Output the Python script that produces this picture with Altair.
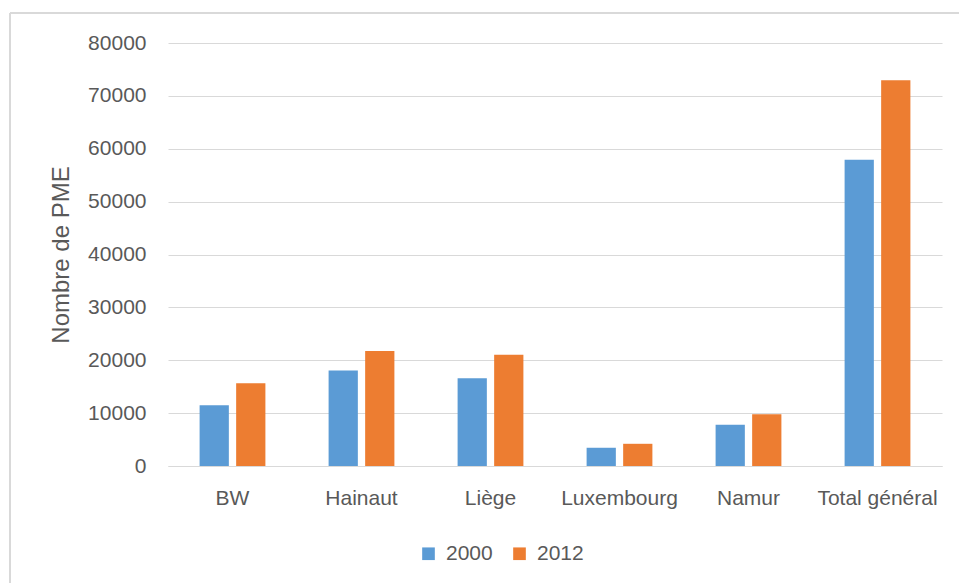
import altair as alt
import pandas as pd

categories = ["BW", "Hainaut", "Liège", "Luxembourg", "Namur", "Total général"]
values_2000 = [11500, 18050, 16600, 3450, 7800, 57900]
values_2012 = [15650, 21750, 21050, 4200, 9800, 72950]
years = ["2000", "2012"]
colors = ["#5B9BD5", "#ED7D31"]

rows = []
for c, a, b in zip(categories, values_2000, values_2012):
    rows.append({"cat": c, "year": years[0], "value": a})
    rows.append({"cat": c, "year": years[1], "value": b})
df = pd.DataFrame(rows)

FONT = "Liberation Sans"
GRAY = "#595959"

bars = alt.Chart(df).mark_bar().encode(
    x=alt.X("cat:N", sort=categories, title=None,
            scale=alt.Scale(paddingInner=0.49, paddingOuter=0.245),
            axis=alt.Axis(labelAngle=0, ticks=False, domain=True, domainColor="#D9D9D9",
                          labelFontSize=21, labelColor=GRAY, labelFont=FONT, labelPadding=38,
                          labelBaseline="alphabetic")),
    xOffset=alt.XOffset("year:N", scale=alt.Scale(paddingInner=0.2, paddingOuter=0)),
    y=alt.Y("value:Q", title="Nombre de PME",
            scale=alt.Scale(domain=[0, 80000], nice=False),
            axis=alt.Axis(values=list(range(0, 80001, 10000)), format="d", ticks=False, domain=False,
                          gridColor="#D9D9D9", labelFontSize=21, labelColor=GRAY, labelFont=FONT,
                          labelPadding=22, titleFontSize=24, titleColor=GRAY, titleFont=FONT,
                          titleFontWeight="normal", titlePadding=14)),
    color=alt.Color("year:N", scale=alt.Scale(domain=years, range=colors),
                    legend=alt.Legend(title=None, orient="none", direction="horizontal",
                                      legendX=250, legendY=500, symbolType="square", symbolSize=160,
                                      symbolStrokeWidth=0, labelFontSize=21, labelColor=GRAY,
                                      labelFont=FONT, labelOffset=7, columnPadding=16)),
)

border_top = alt.Chart(df).mark_rule(color="#D9D9D9", strokeWidth=2).encode(
    x=alt.value(-158), x2=alt.value(800), y=alt.value(-30)
)
border_left = alt.Chart(df).mark_rule(color="#D9D9D9", strokeWidth=2).encode(
    x=alt.value(-158), y=alt.value(-30), y2=alt.value(560)
)

chart = alt.layer(bars, border_top, border_left).properties(
    width=774, height=423,
    autosize=alt.AutoSizeParams(type="none"),
    padding={"left": 168, "top": 43, "right": 17, "bottom": 117},
    background="white",
).configure_view(stroke=None)

chart.save("out.html", embed_options={"renderer": "svg", "actions": False})
